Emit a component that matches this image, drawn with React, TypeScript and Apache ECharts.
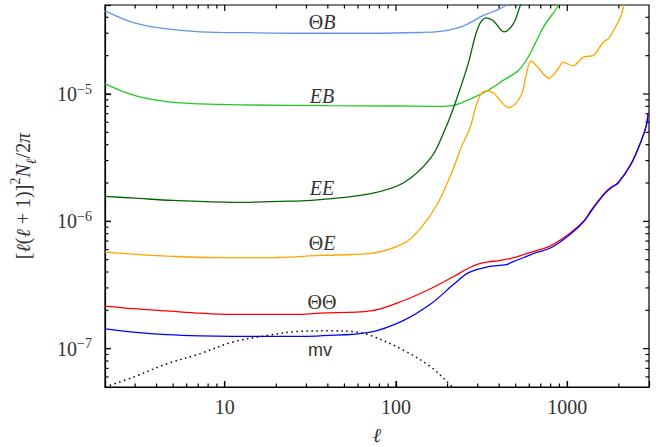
import React, { useEffect, useRef } from 'react';
import * as echarts from 'echarts';

const X_MIN = 2;
const X_MAX = 3000;
const Y_MIN = 5e-8;
const Y_MAX = 5e-5;

// Theta-B (light blue)
const ellTB = [2, 3, 4.6, 7.2, 14, 30, 70, 139, 182, 230, 273, 319, 345, 389, 439, 500];
const valTB = [4.5e-5, 3.6e-5, 3.25e-5, 3.08e-5, 3.03e-5, 3.0e-5, 3.0e-5, 3.04e-5, 3.1e-5, 3.3e-5, 3.65e-5, 4.11e-5, 4.28e-5, 4.56e-5, 4.95e-5, 5.6e-5];

// E-B (green)
const ellEB = [2, 3, 4.6, 7.2, 14, 40, 100, 175, 217, 285, 345, 427, 516, 590, 650, 730, 893, 950];
const valEB = [1.2e-5, 9.7e-6, 8.7e-6, 8.35e-6, 8.2e-6, 8.1e-6, 8.05e-6, 8.0e-6, 8.15e-6, 9.4e-6, 1.07e-5, 1.29e-5, 1.52e-5, 1.94e-5, 2.5e-5, 3.4e-5, 5.0e-5, 6.0e-5];

// E-E (dark green)
const ellEE = [2, 3, 5, 11, 28, 36, 71, 111, 160, 194, 221, 263, 301, 336, 370, 427, 484, 526, 560];
const valEE = [1.57e-6, 1.52e-6, 1.46e-6, 1.41e-6, 1.45e-6, 1.48e-6, 1.65e-6, 2.01e-6, 3.16e-6, 5.34e-6, 8.39e-6, 1.7e-5, 3.31e-5, 3.96e-5, 3.76e-5, 3.08e-5, 3.56e-5, 4.75e-5, 6.0e-5];

// Theta-E (orange)
const ellTE = [2, 3, 5, 10, 20, 36, 71, 111, 139, 175, 217, 240, 270, 305, 336, 370, 456, 536, 575, 614, 673, 781, 883, 944, 1079, 1252, 1413, 1617, 1753, 1927, 2061, 2148, 2250];
const valTE = [5.73e-7, 5.5e-7, 5.3e-7, 5.18e-7, 5.2e-7, 5.4e-7, 5.6e-7, 6.71e-7, 8.8e-7, 1.38e-6, 2.64e-6, 3.8e-6, 5.4e-6, 9.35e-6, 1.06e-5, 1.02e-5, 7.81e-6, 9.7e-6, 1.4e-5, 1.82e-5, 1.62e-5, 1.33e-5, 1.57e-5, 1.77e-5, 1.67e-5, 1.96e-5, 2.0e-5, 2.54e-5, 2.75e-5, 3.43e-5, 4.11e-5, 5.07e-5, 6.0e-5];

// Theta-Theta (red)
const ellTT = [2, 2.93, 4.6, 7.2, 11, 28, 36, 71, 111, 160, 217, 266, 301, 350, 394, 488, 560, 638, 803, 1051, 1253, 1377, 1640, 1800, 1981, 2361, 2702, 2890, 2965];
const valTT = [2.16e-7, 2.06e-7, 1.98e-7, 1.9e-7, 1.86e-7, 1.86e-7, 1.9e-7, 1.98e-7, 2.39e-7, 2.97e-7, 3.69e-7, 4.3e-7, 4.62e-7, 4.82e-7, 4.9e-7, 5.18e-7, 5.5e-7, 5.82e-7, 6.45e-7, 8.2e-7, 1.01e-6, 1.22e-6, 1.65e-6, 1.85e-6, 2.01e-6, 2.84e-6, 4.3e-6, 5.64e-6, 7.13e-6];

// minimum variance (blue)
const ellMV = [2, 2.93, 4.6, 7.2, 11, 28, 36, 71, 111, 160, 217, 266, 345, 439, 488, 560, 638, 803, 1051, 1253, 1377, 1640, 1800, 1981, 2361, 2702, 2890, 2965];
const valMV = [1.43e-7, 1.35e-7, 1.29e-7, 1.26e-7, 1.25e-7, 1.25e-7, 1.26e-7, 1.35e-7, 1.67e-7, 2.25e-7, 3.2e-7, 3.95e-7, 4.4e-7, 4.57e-7, 4.85e-7, 5.2e-7, 5.6e-7, 6.2e-7, 8.0e-7, 1.0e-6, 1.2e-6, 1.63e-6, 1.83e-6, 2.0e-6, 2.82e-6, 4.28e-6, 5.62e-6, 7.1e-6];

// lensing potential signal (dotted)
const ellPP = [2, 2.93, 4.62, 7.2, 11.2, 17.8, 27.7, 41.5, 56.6, 71.1, 111, 160, 209, 235];
const valPP = [5.0e-8, 5.98e-8, 7.62e-8, 9.14e-8, 1.13e-7, 1.27e-7, 1.37e-7, 1.38e-7, 1.36e-7, 1.27e-7, 9.7e-8, 7.18e-8, 5.15e-8, 4.5e-8];

// curve annotations
const annText = ['{g|Θ}{i|B}', '{i|EB}', '{i|EE}', '{g|Θ}{i|E}', '{g|ΘΘ}', '{s|mv}'];
const annEll = [37, 37, 37, 37, 37, 36];
const annVal = [3.69e-5, 9.7e-6, 1.82e-6, 6.82e-7, 2.31e-7, 9.7e-8];

// ticks
const xMajorTicks = [10, 100, 1000];
const yMajorTicks = [1e-7, 1e-6, 1e-5];
const xMinorTicks = [3, 4, 5, 6, 7, 8, 9, 20, 30, 40, 50, 60, 70, 80, 90, 200, 300, 400, 500, 600, 700, 800, 900, 2000];
const yMinorTicks = [6e-8, 7e-8, 8e-8, 9e-8, 2e-7, 3e-7, 4e-7, 5e-7, 6e-7, 7e-7, 8e-7, 9e-7, 2e-6, 3e-6, 4e-6, 5e-6, 6e-6, 7e-6, 8e-6, 9e-6, 2e-5, 3e-5, 4e-5];

const SERIF = 'Liberation Serif';
const SANS = 'Liberation Sans';
const TXT = '#333';

const isPow10 = (v: number) => {
  const l = Math.log10(v);
  return Math.abs(l - Math.round(l)) < 1e-6;
};

const zip = (a: number[], b: number[]) => a.map((x, i) => [x, b[i]]);

export default function App() {
  const ref = useRef<HTMLDivElement>(null);
  useEffect(() => {
    document.body.style.margin = '0';
    const chart = echarts.init(ref.current!, null, { renderer: 'svg' });

    const lineSeries = (name: string, ell: number[], val: number[], color: string, extra: any = {}) => ({
      name,
      type: 'line',
      data: zip(ell, val),
      showSymbol: false,
      symbol: 'none',
      smooth: 0.35,
      lineStyle: { color, width: 1.3, ...(extra.lineStyle || {}) },
      silent: true,
      z: 2,
    });

    const option: any = {
      animation: false,
      grid: {
        left: 105,
        right: 7,
        top: 5,
        bottom: 60,
        containLabel: false,
        outerBoundsMode: 'none',
        show: true,
        borderColor: '#000',
        borderWidth: 1.2,
        backgroundColor: 'transparent',
      },
      xAxis: {
        type: 'log',
        logBase: 10,
        min: X_MIN,
        max: X_MAX,
        position: 'bottom',
        axisLine: { show: true, onZero: false, lineStyle: { color: '#000', width: 1.2 } },
        axisTick: { show: true, inside: true, length: 6, lineStyle: { color: '#000', width: 1.2 } },
        splitLine: { show: false },
        minorTick: { show: false },
        name: 'ℓ',
        nameLocation: 'middle',
        nameGap: 38,
        nameTextStyle: { fontFamily: SERIF, fontStyle: 'italic', fontSize: 20, color: TXT },
        axisLabel: {
          show: true,
          margin: 10,
          fontFamily: SERIF,
          fontSize: 20,
          color: TXT,
          formatter: (v: number) => (isPow10(v) ? String(Math.round(v)) : ''),
        },
      },
      yAxis: {
        type: 'log',
        logBase: 10,
        min: Y_MIN,
        max: Y_MAX,
        position: 'left',
        axisLine: { show: true, onZero: false, lineStyle: { color: '#000', width: 1.2 } },
        axisTick: { show: true, inside: true, length: 6, lineStyle: { color: '#000', width: 1.2 } },
        splitLine: { show: false },
        minorTick: { show: false },
        name: '{t|[}{i|ℓ}{t|(}{i|ℓ}{t| + 1)]}{sup|2}{i|N}{sub|ℓ}{t|/2}{i|π}',
        nameLocation: 'middle',
        nameGap: 67,
        nameTextStyle: {
          color: TXT,
          fontFamily: SERIF,
          rich: {
            t: { fontFamily: SERIF, fontSize: 20, lineHeight: 30, verticalAlign: 'middle', color: TXT },
            i: { fontFamily: SERIF, fontStyle: 'italic', fontSize: 20, lineHeight: 30, verticalAlign: 'middle', color: TXT },
            sup: { fontFamily: SERIF, fontSize: 14, lineHeight: 18, verticalAlign: 'top', color: TXT },
            sub: { fontFamily: SERIF, fontStyle: 'italic', fontSize: 14, lineHeight: 20, verticalAlign: 'bottom', color: TXT },
          },
        },
        axisLabel: {
          show: true,
          margin: 13,
          color: TXT,
          fontFamily: SERIF,
          formatter: (v: number) => {
            if (!isPow10(v)) return '';
            const e = Math.round(Math.log10(v));
            return '{b|10}{s|' + (e < 0 ? '−' + -e : String(e)) + '}';
          },
          rich: {
            b: { fontFamily: SERIF, fontSize: 20, lineHeight: 24, verticalAlign: 'middle', color: TXT },
            s: { fontFamily: SERIF, fontSize: 14, lineHeight: 14, verticalAlign: 'top', color: TXT },
          },
        },
      },
      series: [
        lineSeries('ΘB', ellTB, valTB, '#6495ED'),
        lineSeries('EB', ellEB, valEB, '#22C922'),
        lineSeries('EE', ellEE, valEE, '#006400'),
        lineSeries('ΘE', ellTE, valTE, '#FFA500'),
        lineSeries('ΘΘ', ellTT, valTT, '#FF0000'),
        lineSeries('mv', ellMV, valMV, '#0000FF'),
        lineSeries('signal', ellPP, valPP, '#000000', { lineStyle: { type: [1.5, 3.5], width: 1.5 } }),
      ],
    };
    chart.setOption(option);

    const elements: any[] = [];
    const toPx = (x: number, y: number) => chart.convertToPixel({ seriesIndex: 0 }, [x, y]) as number[];
    const seg = (x1: number, y1: number, x2: number, y2: number) =>
      elements.push({
        type: 'line',
        shape: { x1, y1, x2, y2 },
        style: { stroke: '#000', lineWidth: 1.2 },
      });
    const xTick = (v: number, len: number) => {
      const b = toPx(v, Y_MIN);
      const t = toPx(v, Y_MAX);
      seg(b[0], b[1], b[0], b[1] - len);
      seg(t[0], t[1], t[0], t[1] + len);
    };
    const yTick = (v: number, len: number) => {
      const l = toPx(X_MIN, v);
      const r = toPx(X_MAX, v);
      seg(l[0], l[1], l[0] + len, l[1]);
      seg(r[0], r[1], r[0] - len, r[1]);
    };
    xMajorTicks.forEach((v) => xTick(v, 6));
    xMinorTicks.forEach((v) => xTick(v, 3.5));
    yMajorTicks.forEach((v) => yTick(v, 6));
    yMinorTicks.forEach((v) => yTick(v, 3.5));

    const rich = {
      g: { fontFamily: SERIF, fontSize: 20, fill: TXT },
      i: { fontFamily: SERIF, fontStyle: 'italic', fontSize: 20, fill: TXT },
      s: { fontFamily: SANS, fontSize: 18, fill: TXT },
    };
    annText.forEach((t, i) => {
      const p = toPx(annEll[i], annVal[i]);
      elements.push({
        type: 'text',
        silent: true,
        z: 50,
        x: p[0],
        y: p[1],
        style: { text: t, rich, align: 'center', verticalAlign: 'middle', fill: TXT, fontFamily: SERIF, fontSize: 20 },
      });
    });
    chart.setOption({ graphic: { elements } });

    return () => chart.dispose();
  }, []);
  return <div ref={ref} style={{ width: 656, height: 447 }} />;
}
